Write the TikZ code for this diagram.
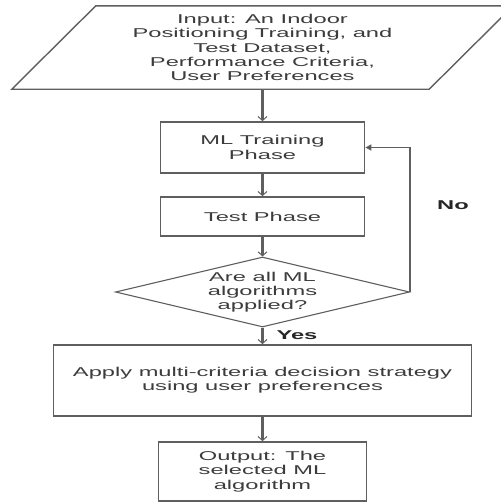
\documentclass[tikz,border=0pt]{standalone}
\usepackage{fontspec}
\setmainfont{Liberation Sans}[FakeStretch=1.85]
\usetikzlibrary{arrows.meta,shapes.geometric,calc}
\definecolor{ln}{RGB}{95,95,95}
\definecolor{tx}{RGB}{60,60,60}
\begin{document}
\begin{tikzpicture}[x=1pt,y=-1pt,
  every node/.style={font=\fontsize{12.8}{14.2}\selectfont, text=tx},
  box/.style={draw=ln, line width=1.7pt, inner sep=0pt, align=center},
  para/.style={draw=ln, line width=1.4pt},
  decision/.style={shape=diamond, draw=ln, line width=1.1pt, inner sep=0pt, align=center,
    minimum width=294pt, minimum height=70pt, aspect=4.2},
  arr/.style={draw=ln, line width=2.2pt, -{Straight Barb[length=4pt,width=9pt,line width=1pt]}},
  fb/.style={draw=ln, line width=1.6pt, -{Triangle[length=6pt,width=6pt,fill=black!80]}},
  lbl/.style={font=\fontsize{12.8}{14.2}\selectfont\bfseries, text=black!85}]
\useasboundingbox (0,0) rectangle (501,504);
\clip (0,0) rectangle (501,504);
\fill[white] (0,0) rectangle (501,504);

\node[inner sep=0pt, minimum width=333pt, minimum height=83pt, align=center] (input) at (262.5,47.5)
  {Input: An Indoor\\Positioning Training, and\\Test Dataset,\\Performance Criteria,\\User Preferences};
\draw[para] ($(input.south west)+(-84pt,0)$) -- (input.north west)
  -- ($(input.north east)+(84pt,0)$) -- (input.south east) -- cycle;

\node[box, minimum width=204pt, minimum height=51pt] (train) at (262.5,147.5) {ML Training\\Phase};
\node[box, minimum width=204pt, minimum height=39pt] (test) at (262.5,216.5) {Test Phase};
\node[decision] (dec) at (262.5,292) {Are all ML\\algorithms\\applied?};
\node[box, minimum width=418pt, minimum height=71pt] (mcdm) at (262.5,380.5)
  {Apply multi-criteria decision strategy\\using user preferences};
\node[box, minimum width=208pt, minimum height=59pt] (out) at (262.5,471.5)
  {Output: The\\selected ML\\algorithm};

\draw[arr] (input.south) -- (train.north);
\draw[arr] (train.south) -- (test.north);
\draw[arr] (test.south) -- (dec.north);
\draw[arr] (dec.south) -- (mcdm.north);
\draw[arr] (mcdm.south) -- (out.north);
\draw[fb] (dec.east) |- (train.east);

\node[lbl] (yes) at (297,335) {Yes};
\node[lbl] (no) at (453,205) {No};
\end{tikzpicture}
\end{document}
